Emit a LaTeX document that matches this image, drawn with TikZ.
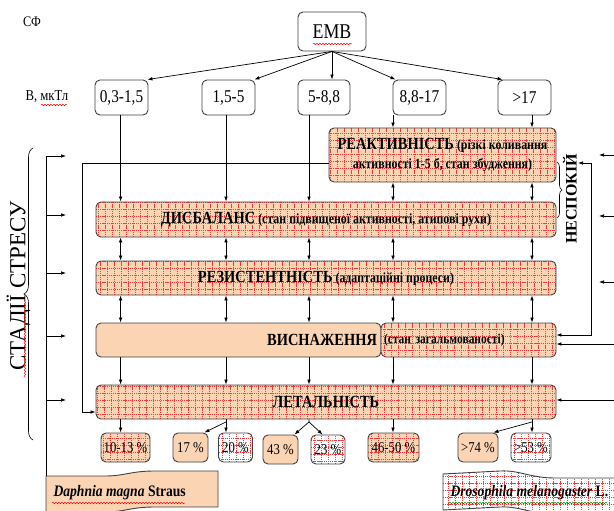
\documentclass[tikz,border=0pt]{standalone}
\usepackage{fontspec}
\setmainfont{Liberation Serif}[FakeStretch=0.85]
\newfontfamily\plainserif{Liberation Serif}
\usetikzlibrary{arrows.meta,decorations.pathmorphing,decorations.pathreplacing,calc}
\definecolor{peach}{HTML}{FBD4B4}
\definecolor{gridred}{HTML}{F03C3C}
\definecolor{bord}{HTML}{404040}
\newcommand\myfs[1]{\fontsize{#1}{#1}\selectfont}
\begin{document}
\begin{tikzpicture}[x=1pt,y=-1pt,
  bx/.style={draw=bord, line width=0.9pt, rounded corners=5pt, inner sep=0pt, align=center},
  plainbox/.style={bx, fill=white},
  peachbox/.style={bx, fill=peach},
  gridfill/.style={path picture={\draw[gridred, dash pattern=on 1.2pt off 0.9pt, line width=0.55pt, step=7pt] (path picture bounding box.south west) grid (path picture bounding box.north east);}},
  hatchbox/.style={bx, fill=peach, gridfill},
  whitehatch/.style={bx, fill=white, gridfill},
  arr/.style={-{Latex[length=5pt,width=3.6pt]}, line width=0.7pt, black},
  darr/.style={{Latex[length=5pt,width=3.6pt]}-{Latex[length=5pt,width=3.6pt]}, line width=0.7pt, black},
  ln/.style={line width=0.7pt, black},
  squig/.style={decorate, decoration={snake, segment length=3pt, amplitude=0.7pt}, line width=0.5pt, red},
  titlefont/.style={font=\bfseries\myfs{14}}
]
\useasboundingbox (0,0) rectangle (614,511);

% column coordinates
\coordinate (k1) at (120.6,0);
\coordinate (k2) at (226,0);
\coordinate (k3) at (309,0);
\coordinate (k4) at (393,0);
\coordinate (k5) at (532,0);

% labels
\node[font=\myfs{14.5}] (sf) at (32,22) {СФ};
\node[font=\myfs{15}, anchor=west] (bl) at (22,97) {В, мкТл};
\draw[squig] (41,105) -- (67,105);

% top
\node[plainbox, minimum width=68pt, minimum height=39pt, font=\myfs{21}] (emb) at (332,31.5) {ЕМВ};
\draw[squig] (313,44) -- (352,44);

\node[plainbox, minimum width=53pt, minimum height=35pt, font=\myfs{18}] (r1) at (121.5,97.5) {0,3-1,5};
\node[plainbox, minimum width=53pt, minimum height=35pt, font=\myfs{18}] (r2) at (228.5,97.5) {1,5-5};
\node[plainbox, minimum width=52pt, minimum height=35pt, font=\myfs{18}] (r3) at (324,97.5) {5-8,8};
\node[plainbox, minimum width=53pt, minimum height=35pt, font=\myfs{18}] (r4) at (419.5,97.5) {8,8-17};
\node[plainbox, minimum width=53pt, minimum height=35pt, font=\myfs{18}] (r5) at (524.5,97.5) {>17};

\draw[arr] (emb.south) -- ($(r1.north east)+(-1,0)$);
\draw[arr] (emb.south) -- ($(r2.north east)+(-1,0)$);
\draw[arr] (emb.south) -- (r3.north -| emb.south);
\draw[arr] (emb.south) -- ($(r4.north west)+(3,0)$);
\draw[arr] (emb.south) -- ($(r5.north west)+(5,0)$);

% stage boxes
\node[hatchbox, minimum width=227pt, minimum height=54pt, font=\bfseries\fontsize{14}{19}\selectfont] (rea) at (442.5,155)
  {{\fontsize{17}{19}\selectfont РЕАКТИВНІСТЬ} (різкі коливання\\активності 1-5 б, стан збудження)};
\node[hatchbox, minimum width=460pt, minimum height=35pt, titlefont] (dis) at (326,219.5)
  {{\myfs{17}ДИСБАЛАНС} (стан підвищеної активності, атипові рухи)};
\node[hatchbox, minimum width=460pt, minimum height=34pt, titlefont] (res) at (326,278)
  {{\myfs{17}РЕЗИСТЕНТНІСТЬ} (адаптаційні процеси)};
\node[peachbox, minimum width=285pt, minimum height=34pt, text width=277pt, align=right, font=\bfseries\myfs{17}] (vys) at (238.5,340) {ВИСНАЖЕННЯ};
\node[hatchbox, minimum width=175pt, minimum height=34pt, text width=169pt, align=left, font=\bfseries\myfs{13.5}] (vys2) at (468.5,340) {(стан загальмованості)};
\node[hatchbox, minimum width=460pt, minimum height=34pt, font=\bfseries\myfs{17}] (let) at (326,402) {ЛЕТАЛЬНІСТЬ};

% percentage boxes
\node[hatchbox, minimum width=49pt, minimum height=29pt, font=\myfs{15}] (p1) at (125.5,447.5) {10-13 \%};
\node[peachbox, minimum width=35pt, minimum height=29pt, font=\myfs{15}] (p2) at (190.5,447.5) {17 \%};
\node[whitehatch, minimum width=34pt, minimum height=29pt, font=\myfs{15}] (p3) at (235.5,447.5) {20 \%};
\node[peachbox, minimum width=35pt, minimum height=29pt, font=\myfs{15}] (p4) at (280.5,449.5) {43 \%};
\node[whitehatch, minimum width=34pt, minimum height=29pt, font=\myfs{15}] (p5) at (328,449.5) {23 \%};
\node[hatchbox, minimum width=51pt, minimum height=29pt, font=\myfs{15}] (p6) at (393.5,447.5) {46-50 \%};
\node[peachbox, minimum width=40pt, minimum height=29pt, font=\myfs{15}] (p7) at (478,447.5) {>74 \%};
\node[whitehatch, minimum width=40pt, minimum height=29pt, font=\myfs{15}] (p8) at (531,447.5) {>53 \%};

% vertical connectors
\foreach \k in {1,2,3} \draw[arr] (r\k.south -| k\k) -- (dis.north -| k\k);
\foreach \k in {4,5} \draw[arr] (r\k.south -| k\k) -- (rea.north -| k\k);
\foreach \k in {4,5} \draw[darr] (rea.south -| k\k) -- (dis.north -| k\k);
\foreach \k in {1,...,5} \draw[darr] (dis.south -| k\k) -- (res.north -| k\k);
\foreach \k in {1,2,3} \draw[darr] (res.south -| k\k) -- (vys.north -| k\k);
\foreach \k in {4,5} \draw[darr] (res.south -| k\k) -- (vys2.north -| k\k);
\foreach \k in {1,2,3} \draw[arr] (vys.south -| k\k) -- (let.north -| k\k);
\foreach \k in {4,5} \draw[arr] (vys2.south -| k\k) -- (let.north -| k\k);

% below lethality
\coordinate (s2) at ($(let.south -| k2)+(0,2.5)$);
\coordinate (s3) at ($(let.south -| k3)+(0,2.5)$);
\coordinate (s5) at ($(let.south -| k5)+(0,2.5)$);
\draw[arr] (let.south -| k1) -- (p1.north -| k1);
\draw[arr] (let.south -| k2) -- (p3.north -| k2);
\draw[arr] (s2) -- ($(p2.north east)+(-4,0)$);
\draw[arr] (let.south -| k3) -- (s3) -- ($(p4.north east)+(-4,0)$);
\draw[arr] (s3) -- ($(p5.north west)+(12,0)$);
\draw[arr] (let.south -| k4) -- (p6.north -| k4);
\draw[arr] (let.south -| k5) -- (p8.north -| k5);
\draw[arr] (s5) -- ($(p7.north east)+(-5,0)$);

% left side
\draw[ln] (46,156) -- (46,480);
\foreach \y in {156,215,273,336,400} \draw[arr] (46,\y) -- (66,\y);
\draw[arr] ($(rea.west)+(0,8)$) -| (82,412) -- ($(let.west)+(0,10)$);
\draw[line width=0.6pt, decorate, decoration={brace, amplitude=9pt}] (33,440) -- (33,148);
\node[rotate=90, font=\plainserif\myfs{23}] (stad) at (18.5,286) {СТАДІЇ СТРЕСУ};
\draw[squig] (25,377) -- (25,300);

% right side
\foreach \y in {155,216,282} \draw[arr] (614,\y) -- (599,\y);
\draw[darr] (578,163) -- (591,163) -- (591,335) -- ($(vys2.east)+(0,-5)$);
\draw[arr] (614,344) -- ($(vys2.east)+(0,4)$);
\draw[arr] (614,400) -- ($(let.east)+(0,-2)$);
\draw[line width=0.6pt, decorate, decoration={brace, amplitude=5pt}] (557,162) -- (557,218);
\node[rotate=90, font=\plainserif\bfseries\myfs{16}] (nesp) at (570,199) {НЕСПОКІЙ};

% banners
\path[draw=bord, line width=0.9pt, fill=peach] (46,476) -- (105,476) .. controls (125,476) and (130,471) .. (155,471) -- (218,471) -- (218,507) -- (155,507) .. controls (130,507) and (125,512) .. (105,512) -- (46,512) -- cycle;
\node[anchor=west, font=\bfseries\myfs{16}] (daph) at (50,493) {\textit{Daphnia magna} Straus};
\draw[squig] (52,503) -- (185,503);

\path[draw=bord, line width=0.9pt, fill=white, gridfill] (443,474) -- (500,471) .. controls (520,470) and (530,478) .. (555,478) -- (620,478) -- (620,514) -- (555,514) .. controls (530,514) and (520,506) .. (500,507) -- (443,510) -- cycle;
\node[anchor=west, font=\bfseries\myfs{16}] (dros) at (447,493) {\textit{Drosophila melanogaster} L.};
\draw[squig, green!55!black] (449,503) -- (607,503);
\end{tikzpicture}
\end{document}
